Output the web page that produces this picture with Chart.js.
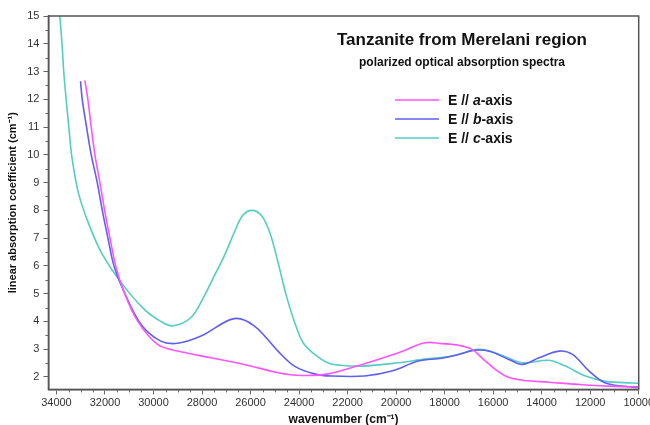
<!DOCTYPE html>
<html>
<head>
<meta charset="utf-8">
<script src="https://cdn.jsdelivr.net/npm/chart.js@4.4.1/dist/chart.umd.min.js"></script>
<style>
  html, body { margin: 0; padding: 0; background: #fff; overflow: hidden; }
  #wrap { width: 656px; height: 425px; }
</style>
</head>
<body>
<div id="wrap"><canvas id="spectra"></canvas></div>
<script>
// wavenumbers (cm-1) and absorption values
const aWave = [32829, 32705, 32566, 32415, 32208, 32014, 31794, 31559, 31230, 30660, 29830, 29000, 27630, 26260, 24870, 23900, 22800, 21400, 19900, 18810, 18110, 17420, 16870, 16320, 15490, 14800, 13700, 12320, 10950, 10000];
const aAbs  = [12.68, 12, 11, 10, 9, 8, 7, 6, 5.1, 4.02, 3.17, 2.93, 2.69, 2.45, 2.15, 2.05, 2.11, 2.45, 2.87, 3.23, 3.2, 3.14, 2.99, 2.57, 2.03, 1.88, 1.81, 1.72, 1.66, 1.64];

const bWave = [33007, 32937, 32759, 32566, 32318, 32110, 31877, 31630, 31230, 30520, 29700, 29000, 28040, 26680, 25850, 24870, 24190, 23370, 22660, 21300, 20180, 19080, 18110, 17420, 16750, 16180, 15350, 14800, 14110, 13280, 12730, 12040, 11370, 10250, 10000];
const bAbs  = [12.65, 12, 11, 10, 9, 8, 7, 6, 5.1, 3.9, 3.29, 3.21, 3.47, 4.1, 3.84, 2.93, 2.39, 2.11, 2.03, 2.03, 2.21, 2.57, 2.67, 2.81, 2.96, 2.93, 2.63, 2.45, 2.69, 2.93, 2.81, 2.21, 1.78, 1.63, 1.62];

const cWave = [33860, 33770, 33700, 33600, 33490, 33360, 33090, 32676, 32125, 31298, 30400, 29700, 29200, 28455, 27905, 27491, 27077, 26663, 26318, 25946, 25559, 25214, 24868, 24524, 24180, 23833, 23370, 22800, 22300, 21400, 19900, 18810, 17700, 16600, 15770, 14800, 13700, 13020, 12190, 11370, 10250, 10000];
const cAbs  = [15, 14, 13, 12, 11, 9.9, 8.61, 7.53, 6.44, 5.36, 4.45, 4.0, 3.84, 4.14, 4.92, 5.65, 6.37, 7.22, 7.82, 8.0, 7.82, 7.22, 6.13, 4.92, 3.96, 3.23, 2.82, 2.5, 2.42, 2.39, 2.51, 2.64, 2.75, 2.99, 2.82, 2.51, 2.6, 2.39, 2.03, 1.84, 1.78, 1.77];

const seriesNames = ['a', 'b', 'c'];
const xTicks = [34000, 32000, 30000, 28000, 26000, 24000, 22000, 20000, 18000, 16000, 14000, 12000, 10000];
const yTicks = [2, 3, 4, 5, 6, 7, 8, 9, 10, 11, 12, 13, 14, 15];

function toPoints(xs, ys) {
    return xs.map((x, i) => ({ x: x, y: ys[i] }));
}

const colors = ['rgb(255, 85, 255)', 'rgb(95, 95, 240)', 'rgb(85, 205, 195)'];
const waves = [aWave, bWave, cWave];
const values = [aAbs, bAbs, cAbs];

const datasets = seriesNames.map((n, i) => ({
    label: 'E // ' + n + '-axis',
    axisName: n,
    data: toPoints(waves[i], values[i]),
    borderColor: colors[i],
    borderWidth: 1.6,
    pointRadius: 0,
    fill: false,
    tension: 0.35
}));

const FONT = '"Liberation Sans", Arial, sans-serif';

// frame, minor ticks, inner title and legend
const decorations = {
    id: 'decorations',
    afterDraw(chart) {
        const ctx = chart.ctx;
        const area = chart.chartArea;
        const xs = chart.scales.x;
        const ys = chart.scales.y;
        ctx.save();

        // minor ticks
        ctx.strokeStyle = '#666';
        ctx.lineWidth = 1;
        ctx.beginPath();
        for (let v = 34000; v >= 10000; v -= 500) {
            if (v % 2000 === 0) continue;
            const px = Math.round(xs.getPixelForValue(v)) + 0.5;
            ctx.moveTo(px, area.bottom);
            ctx.lineTo(px, area.bottom + 3);
        }
        for (let v = 2.5; v < 15; v += 1) {
            const py = Math.round(ys.getPixelForValue(v)) + 0.5;
            ctx.moveTo(area.left, py);
            ctx.lineTo(area.left - 3, py);
        }
        ctx.stroke();

        // frame
        ctx.strokeStyle = '#555';
        ctx.lineWidth = 1.5;
        ctx.strokeRect(area.left, area.top, area.right - area.left, area.bottom - area.top);

        // title block
        ctx.fillStyle = '#111';
        ctx.textAlign = 'center';
        ctx.textBaseline = 'middle';
        ctx.font = 'bold 17px ' + FONT;
        ctx.fillText('Tanzanite from Merelani region', 462, 40);
        ctx.font = 'bold 12px ' + FONT;
        ctx.fillText('polarized optical absorption spectra', 462, 63);

        // legend
        const x0 = 395, x1 = 439, tx = 448;
        chart.data.datasets.forEach((ds, i) => {
            const y = 100 + i * 19;
            ctx.strokeStyle = ds.borderColor;
            ctx.lineWidth = 1.6;
            ctx.beginPath();
            ctx.moveTo(x0, y);
            ctx.lineTo(x1, y);
            ctx.stroke();
            ctx.textAlign = 'left';
            ctx.fillStyle = '#111';
            let x = tx;
            const parts = [['E // ', 'bold 14px '], [ds.axisName, 'italic bold 14px '], ['-axis', 'bold 14px ']];
            parts.forEach(p => {
                ctx.font = p[1] + FONT;
                ctx.fillText(p[0], x, y + 1);
                x += ctx.measureText(p[0]).width;
            });
        });
        ctx.restore();
    }
};

new Chart(document.getElementById('spectra'), {
    type: 'line',
    data: { datasets: datasets },
    plugins: [decorations],
    options: {
        responsive: true,
        maintainAspectRatio: false,
        animation: false,
        layout: { padding: { left: 6, right: 0, top: 16, bottom: -2 } },
        plugins: {
            legend: { display: false },
            tooltip: { enabled: false }
        },
        scales: {
            x: {
                type: 'linear',
                reverse: true,
                min: 10000,
                max: 34330,
                afterBuildTicks(axis) { axis.ticks = xTicks.map(v => ({ value: v })); },
                ticks: {
                    autoSkip: false,
                    maxRotation: 0,
                    padding: 2,
                    color: '#333',
                    font: { family: FONT, size: 11 },
                    callback: v => String(v)
                },
                grid: { display: true, drawOnChartArea: false, tickLength: 5, color: '#666' },
                border: { display: true, color: '#555', width: 1.5 },
                title: {
                    display: true,
                    text: 'wavenumber (cm\u207B\u00B9)',
                    color: '#111',
                    font: { family: FONT, size: 12, weight: 'bold' },
                    padding: { top: 1, bottom: 0 }
                }
            },
            y: {
                type: 'linear',
                min: 1.55,
                max: 15,
                afterBuildTicks(axis) { axis.ticks = yTicks.map(v => ({ value: v })); },
                ticks: {
                    autoSkip: false,
                    padding: 4,
                    color: '#333',
                    font: { family: FONT, size: 11 }
                },
                grid: { display: true, drawOnChartArea: false, tickLength: 5, color: '#666' },
                border: { display: true, color: '#555', width: 1.5 },
                title: {
                    display: true,
                    text: 'linear absorption coefficient (cm\u207B\u00B9)',
                    color: '#111',
                    font: { family: FONT, size: 11, weight: 'bold' },
                    padding: { top: 0, bottom: 4 }
                }
            }
        }
    }
});
</script>
</body>
</html>
